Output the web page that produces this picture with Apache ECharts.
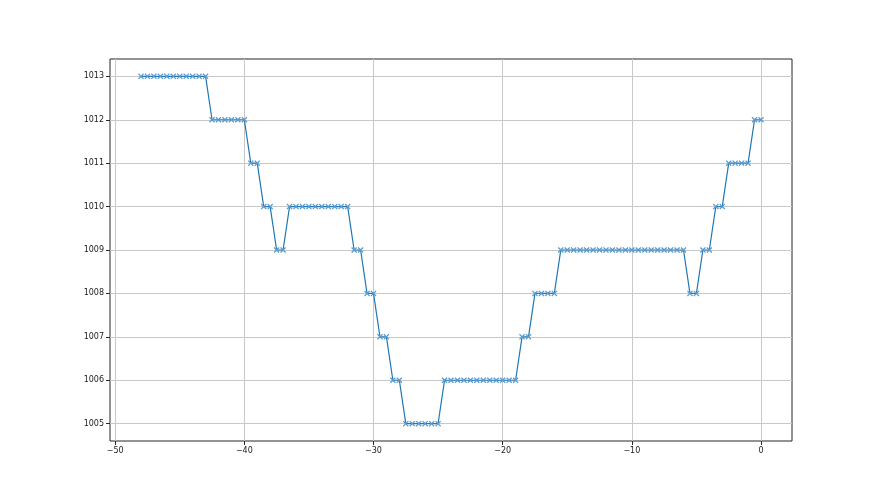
<!DOCTYPE html>
<html>
<head>
<meta charset="utf-8">
<script src="https://cdn.jsdelivr.net/npm/echarts@6/dist/echarts.min.js"></script>
<style>
    html, body { margin: 0; padding: 0; background: #fff; }
    #chart { width: 880px; height: 495px; }
</style>
</head>
<body>
<div id="chart"></div>
<script>
// hours before now (x) and pressure readings (y)
var hours = [
    -48, -47.5, -47, -46.5, -46, -45.5, -45, -44.5, -44, -43.5, -43,
    -42.5, -42, -41.5, -41, -40.5, -40, -39.5, -39, -38.5, -38, -37.5, -37,
    -36.5, -36, -35.5, -35, -34.5, -34, -33.5, -33, -32.5, -32,
    -31.5, -31, -30.5, -30, -29.5, -29, -28.5, -28,
    -27.5, -27, -26.5, -26, -25.5, -25,
    -24.5, -24, -23.5, -23, -22.5, -22, -21.5, -21, -20.5, -20, -19.5, -19,
    -18.5, -18, -17.5, -17, -16.5, -16,
    -15.5, -15, -14.5, -14, -13.5, -13, -12.5, -12, -11.5, -11,
    -10.5, -10, -9.5, -9, -8.5, -8, -7.5, -7, -6.5, -6,
    -5.5, -5, -4.5, -4, -3.5, -3, -2.5, -2, -1.5, -1, -0.5, 0
];
var pressure = [
    1013, 1013, 1013, 1013, 1013, 1013, 1013, 1013, 1013, 1013, 1013,
    1012, 1012, 1012, 1012, 1012, 1012, 1011, 1011, 1010, 1010, 1009, 1009,
    1010, 1010, 1010, 1010, 1010, 1010, 1010, 1010, 1010, 1010,
    1009, 1009, 1008, 1008, 1007, 1007, 1006, 1006,
    1005, 1005, 1005, 1005, 1005, 1005,
    1006, 1006, 1006, 1006, 1006, 1006, 1006, 1006, 1006, 1006, 1006, 1006,
    1007, 1007, 1008, 1008, 1008, 1008,
    1009, 1009, 1009, 1009, 1009, 1009, 1009, 1009, 1009, 1009,
    1009, 1009, 1009, 1009, 1009, 1009, 1009, 1009, 1009, 1009,
    1008, 1008, 1009, 1009, 1010, 1010, 1011, 1011, 1011, 1011, 1012, 1012
];
var xTicks = [-50, -40, -30, -20, -10, 0];
var yTicks = [1005, 1006, 1007, 1008, 1009, 1010, 1011, 1012, 1013];

var points = [];
for (var i = 0; i < hours.length; i++) {
    points.push([hours[i], pressure[i]]);
}

// filled "x" marker (matplotlib style)
var crossMarker = 'path://M0,1.5L1.5,0L5,3.5L8.5,0L10,1.5L6.5,5L10,8.5L8.5,10L5,6.5L1.5,10L0,8.5L3.5,5Z';

var chart = echarts.init(document.getElementById('chart'));

function plain(v) {
    return String(v).replace('-', '\u2212');
}

var option = {
    animation: false,
    grid: {
        left: 110, right: 88, top: 59, bottom: 54,
        show: true,
        borderColor: '#262626',
        borderWidth: 1
    },
    xAxis: {
        type: 'value',
        min: -50.4,
        max: 2.4,
        axisLine: { show: false, onZero: false },
        axisTick: {
            show: true, length: 4, inside: false,
            customValues: xTicks,
            lineStyle: { color: '#262626', width: 1 }
        },
        axisLabel: {
            customValues: xTicks, margin: 6, formatter: plain,
            fontFamily: 'DejaVu Sans', fontSize: 8, color: '#1a1a1a'
        },
        splitLine: { show: true, lineStyle: { color: '#c8c8c8', width: 1 } }
    },
    yAxis: {
        type: 'value',
        min: 1004.6,
        max: 1013.4,
        axisLine: { show: false, onZero: false },
        axisTick: {
            show: true, length: 4, inside: false,
            customValues: yTicks,
            lineStyle: { color: '#262626', width: 1 }
        },
        axisLabel: {
            customValues: yTicks, margin: 6, formatter: plain,
            fontFamily: 'DejaVu Sans', fontSize: 8, color: '#1a1a1a'
        },
        splitLine: { show: true, lineStyle: { color: '#c8c8c8', width: 1 } }
    },
    series: [{
        type: 'line',
        data: points,
        symbol: crossMarker,
        symbolSize: 6,
        showAllSymbol: true,
        itemStyle: { color: '#5a9bd0', borderWidth: 0 },
        lineStyle: { color: '#1f77b4', width: 1.2 }
    }]
};

chart.setOption(option);
</script>
</body>
</html>
